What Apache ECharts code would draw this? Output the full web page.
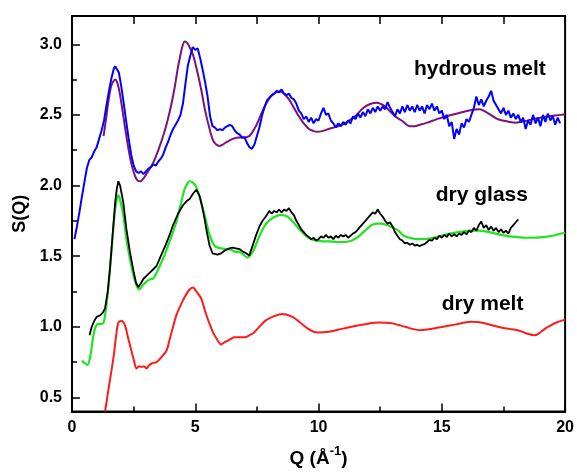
<!DOCTYPE html>
<html>
<head>
<meta charset="utf-8">
<script src="https://cdn.jsdelivr.net/npm/echarts@6/dist/echarts.min.js"></script>
<style>html,body{margin:0;padding:0;background:#fff;}#c{width:577px;height:473px;}</style>
</head>
<body>
<div id="c"></div>
<script>
const xTicks = [0, 5, 10, 15, 20];
const yTickLabels = [0.5, 1.0, 1.5, 2.0, 2.5, 3.0];
const yMinorTicks = [0.75, 1.25, 1.75, 2.25, 2.75];

const hydrousData = [
[0.1,1.62],[0.2,1.71],[0.3,1.81],[0.4,1.92],[0.5,2.02],[0.6,2.12],[0.7,2.18],[0.8,2.20],[0.9,2.24],[1.0,2.27],
[1.1,2.33],[1.2,2.39],[1.3,2.46],[1.4,2.57],[1.5,2.67],[1.6,2.76],[1.7,2.83],[1.75,2.845],[1.8,2.84],[1.9,2.80],
[2.0,2.70],[2.1,2.58],[2.2,2.45],[2.3,2.33],[2.4,2.22],[2.5,2.14],[2.6,2.10],[2.7,2.09],[2.8,2.10],[2.9,2.08],
[3.0,2.10],[3.1,2.12],[3.2,2.13],[3.3,2.15],[3.4,2.14],[3.5,2.17],[3.6,2.19],[3.7,2.22],[3.8,2.27],[3.9,2.31],
[4.0,2.36],[4.1,2.40],[4.2,2.43],[4.3,2.46],[4.4,2.50],[4.5,2.58],[4.6,2.72],[4.7,2.85],[4.8,2.92],[4.9,2.98],
[5.0,2.96],[5.1,2.97],[5.2,2.90],[5.3,2.82],[5.4,2.73],[5.5,2.63],[5.6,2.49],[5.7,2.42],[5.8,2.41],[5.9,2.39],
[6.0,2.40],[6.1,2.39],[6.2,2.41],[6.3,2.42],[6.4,2.43],[6.5,2.42],[6.6,2.39],[6.7,2.37],[6.8,2.36],[6.9,2.34],
[7.0,2.34],[7.1,2.30],[7.2,2.27],[7.3,2.26],[7.4,2.29],[7.5,2.35],[7.6,2.41],[7.7,2.49],[7.8,2.55],[7.9,2.60],
[8.0,2.62],[8.1,2.64],[8.2,2.65],[8.3,2.67],[8.4,2.66],[8.5,2.68],[8.6,2.65],[8.7,2.64],[8.8,2.65],[8.9,2.62],
[9.0,2.61],[9.1,2.58],[9.2,2.53],[9.3,2.51],[9.4,2.47],[9.5,2.49],[9.6,2.45],[9.7,2.48],[9.8,2.44],[9.9,2.47],
[10.0,2.46],[10.1,2.51],[10.2,2.55],[10.3,2.50],[10.4,2.51],[10.5,2.46],[10.6,2.44],[10.7,2.41],[10.8,2.44],[10.9,2.42],
[11.0,2.45],[11.1,2.43],[11.2,2.46],[11.3,2.44],[11.4,2.49],[11.5,2.47],[11.6,2.51],[11.7,2.48],[11.8,2.52],[11.9,2.49],
[12.0,2.54],[12.1,2.51],[12.2,2.55],[12.3,2.52],[12.4,2.56],[12.5,2.53],[12.6,2.56],[12.7,2.54],[12.8,2.59],[12.9,2.55],
[13.0,2.52],[13.1,2.49],[13.2,2.54],[13.3,2.51],[13.4,2.56],[13.5,2.52],[13.6,2.57],[13.7,2.53],[13.8,2.56],[13.9,2.52],
[14.0,2.57],[14.1,2.53],[14.2,2.56],[14.3,2.51],[14.4,2.57],[14.5,2.54],[14.6,2.58],[14.7,2.53],[14.8,2.56],[14.9,2.51],
[15.0,2.53],[15.1,2.47],[15.2,2.50],[15.3,2.42],[15.4,2.45],[15.5,2.33],[15.6,2.40],[15.7,2.36],[15.8,2.44],[15.9,2.41],
[16.0,2.47],[16.1,2.45],[16.2,2.50],[16.3,2.55],[16.4,2.63],[16.5,2.57],[16.6,2.61],[16.7,2.56],[16.8,2.60],[16.9,2.63],
[17.0,2.67],[17.1,2.60],[17.2,2.57],[17.3,2.54],[17.4,2.51],[17.5,2.55],[17.6,2.50],[17.7,2.53],[17.8,2.48],[17.9,2.51],
[18.0,2.47],[18.1,2.50],[18.2,2.45],[18.3,2.48],[18.4,2.40],[18.5,2.46],[18.6,2.43],[18.7,2.50],[18.8,2.44],[18.9,2.48],
[19.0,2.42],[19.1,2.50],[19.2,2.45],[19.3,2.51],[19.4,2.46],[19.5,2.49],[19.6,2.43],[19.7,2.48],[19.8,2.44]
];

const hydrousFit = [
[1.28,2.35],[1.38,2.47],[1.48,2.60],[1.6,2.71],[1.75,2.75],[1.85,2.72],[1.95,2.64],[2.1,2.47],[2.25,2.30],[2.4,2.16],
[2.55,2.07],[2.66,2.035],[2.76,2.03],[2.9,2.05],[3.05,2.09],[3.29,2.16],[3.5,2.25],[3.75,2.38],[3.96,2.52],[4.15,2.68],
[4.3,2.84],[4.37,2.90],[4.47,2.98],[4.57,3.02],[4.67,3.01],[4.77,2.98],[4.9,2.93],[5.05,2.83],[5.24,2.68],[5.4,2.53],
[5.58,2.40],[5.72,2.32],[5.85,2.29],[5.98,2.28],[6.11,2.29],[6.3,2.31],[6.52,2.33],[6.79,2.34],[6.92,2.34],[7.19,2.35],
[7.32,2.38],[7.46,2.42],[7.66,2.50],[7.86,2.575],[8.06,2.63],[8.27,2.66],[8.4,2.665],[8.53,2.66],[8.8,2.61],[9.0,2.55],
[9.2,2.49],[9.4,2.44],[9.61,2.40],[9.8,2.385],[9.94,2.38],[10.15,2.385],[10.41,2.40],[10.7,2.415],[10.95,2.43],[11.2,2.455],
[11.49,2.49],[11.7,2.53],[11.9,2.56],[12.15,2.58],[12.36,2.585],[12.55,2.575],[12.7,2.56],[12.9,2.525],[13.1,2.49],[13.37,2.46],
[13.71,2.42],[13.9,2.42],[14.11,2.43],[14.4,2.445],[14.65,2.46],[14.9,2.475],[15.19,2.49],[15.5,2.505],[15.86,2.52],[16.2,2.535],
[16.53,2.54],[16.8,2.52],[17.07,2.49],[17.27,2.47],[17.47,2.46],[17.75,2.45],[18.01,2.445],[18.35,2.455],[18.68,2.47],[19.0,2.48],
[19.35,2.49],[19.6,2.495],[19.82,2.50],[20,2.505]
];

const glassData = [
[0.71,0.94],[0.8,1.00],[0.9,1.04],[1.0,1.07],[1.14,1.08],[1.25,1.10],[1.34,1.13],[1.45,1.25],[1.54,1.41],[1.65,1.66],
[1.75,1.88],[1.82,1.98],[1.88,2.03],[1.95,2.00],[2.08,1.88],[2.2,1.70],[2.35,1.53],[2.5,1.39],[2.6,1.31],[2.69,1.28],
[2.8,1.31],[2.9,1.34],[3.02,1.36],[3.2,1.39],[3.43,1.43],[3.6,1.50],[3.8,1.58],[3.96,1.65],[4.1,1.72],[4.3,1.80],
[4.5,1.86],[4.65,1.89],[4.77,1.905],[4.9,1.94],[5.04,1.97],[5.1,1.96],[5.17,1.93],[5.28,1.85],[5.38,1.76],[5.48,1.66],
[5.58,1.575],[5.7,1.52],[5.78,1.51],[5.9,1.51],[6.05,1.52],[6.2,1.54],[6.38,1.555],[6.5,1.56],[6.65,1.555],[6.79,1.55],
[6.95,1.53],[7.06,1.52],[7.19,1.505],[7.3,1.56],[7.46,1.645],[7.6,1.71],[7.73,1.75],
[7.9,1.79],[8.0,1.82],[8.1,1.80],[8.2,1.82],[8.3,1.81],[8.4,1.83],[8.5,1.81],[8.6,1.83],[8.7,1.82],[8.8,1.84],
[8.9,1.81],[9.0,1.79],[9.1,1.75],[9.2,1.72],[9.3,1.69],[9.4,1.67],[9.5,1.65],[9.6,1.635],[9.7,1.62],[9.8,1.63],
[9.9,1.61],[10.0,1.62],[10.1,1.64],[10.2,1.63],[10.3,1.65],[10.4,1.63],[10.5,1.64],[10.6,1.62],[10.7,1.645],[10.8,1.63],
[10.9,1.65],[11.0,1.64],[11.1,1.65],[11.2,1.63],[11.3,1.645],[11.4,1.66],[11.5,1.67],[11.6,1.69],[11.7,1.71],[11.8,1.73],
[11.9,1.75],[12.0,1.77],[12.1,1.79],[12.2,1.81],[12.3,1.80],[12.4,1.83],[12.5,1.80],[12.6,1.78],[12.7,1.75],[12.8,1.73],
[12.9,1.74],[13.0,1.71],[13.1,1.67],[13.2,1.645],[13.3,1.62],[13.4,1.61],[13.5,1.59],[13.6,1.595],[13.7,1.58],[13.8,1.59],
[13.9,1.575],[14.0,1.58],[14.1,1.57],[14.2,1.58],[14.3,1.585],[14.4,1.60],[14.5,1.615],[14.6,1.61],[14.7,1.63],[14.8,1.62],
[14.9,1.645],[15.0,1.63],[15.1,1.65],[15.2,1.635],[15.3,1.66],[15.4,1.64],[15.5,1.655],[15.6,1.64],[15.7,1.66],[15.8,1.65],
[15.9,1.67],[16.0,1.655],[16.1,1.68],[16.2,1.67],[16.3,1.70],[16.4,1.68],[16.5,1.72],[16.6,1.745],[16.7,1.70],[16.8,1.72],
[16.9,1.685],[17.0,1.71],[17.1,1.68],[17.2,1.70],[17.3,1.67],[17.4,1.69],[17.5,1.665],[17.6,1.68],[17.7,1.66],[17.8,1.70],
[17.9,1.72],[18.0,1.74],[18.1,1.76]
];

const glassFit = [
[0.40,0.76],[0.5,0.745],[0.63,0.73],[0.75,0.80],[0.85,0.92],[0.94,0.99],[1.05,1.02],[1.14,1.02],[1.27,1.025],[1.34,1.08],
[1.44,1.22],[1.54,1.41],[1.65,1.64],[1.75,1.83],[1.82,1.91],[1.88,1.93],[1.95,1.90],[2.08,1.79],[2.2,1.63],[2.35,1.48],
[2.5,1.36],[2.62,1.29],[2.73,1.265],[2.85,1.29],[3.02,1.32],[3.15,1.335],[3.29,1.34],[3.45,1.39],[3.69,1.48],[3.95,1.60],
[4.23,1.74],[4.4,1.86],[4.57,1.975],[4.7,2.02],[4.77,2.03],[4.9,2.02],[5.04,1.99],[5.17,1.92],[5.31,1.835],[5.45,1.74],
[5.58,1.65],[5.72,1.59],[5.85,1.565],[6.05,1.555],[6.25,1.55],[6.45,1.545],[6.65,1.53],[6.79,1.53],[6.95,1.51],[7.12,1.49],
[7.25,1.51],[7.39,1.55],[7.55,1.62],[7.73,1.69],[7.9,1.735],[8.06,1.76],[8.25,1.78],[8.4,1.79],[8.55,1.79],[8.73,1.78],
[8.9,1.755],[9.07,1.72],[9.28,1.68],[9.48,1.645],[9.7,1.62],[9.94,1.61],[10.2,1.605],[10.41,1.605],[10.75,1.60],[11.09,1.60],
[11.35,1.61],[11.55,1.63],[11.76,1.66],[11.95,1.69],[12.16,1.72],[12.36,1.73],[12.56,1.73],[12.77,1.72],[12.97,1.705],[13.24,1.68],
[13.44,1.645],[13.7,1.63],[13.98,1.62],[14.3,1.62],[14.65,1.63],[15.0,1.645],[15.32,1.66],[15.7,1.67],[16.13,1.68],[16.53,1.68],
[17.07,1.665],[17.4,1.65],[17.74,1.64],[18.05,1.635],[18.41,1.63],[18.75,1.63],[19.08,1.635],[19.35,1.64],[19.62,1.65],[19.96,1.665],
[20,1.667]
];

const meltData = [
[1.34,0.40],[1.5,0.58],[1.68,0.78],[1.8,0.95],[1.88,1.03],[2.01,1.04],[2.15,1.01],[2.25,0.94],[2.35,0.87],[2.5,0.77],
[2.62,0.705],[2.72,0.72],[2.82,0.715],[2.92,0.72],[3.02,0.705],[3.12,0.725],[3.23,0.74],[3.43,0.75],[3.6,0.78],[3.83,0.83],
[3.96,0.91],[4.1,1.00],[4.23,1.08],[4.4,1.15],[4.57,1.21],[4.75,1.26],[4.9,1.277],[5.05,1.25],[5.24,1.20],[5.4,1.11],
[5.58,1.02],[5.72,0.96],[5.85,0.92],[6.05,0.875],[6.18,0.89],[6.31,0.90],[6.45,0.915],[6.59,0.925],[6.8,0.925],[6.99,0.925],
[7.2,0.94],[7.39,0.96],[7.6,1.00],[7.86,1.045],[8.2,1.075],[8.53,1.09],[8.94,1.07],[9.25,1.03],[9.54,0.99],[9.8,0.965],
[10.01,0.96],[10.41,0.965],[10.82,0.98],[11.2,0.995],[11.63,1.01],[12.0,1.022],[12.43,1.03],[12.97,1.025],[13.25,1.012],[13.51,1.00],
[13.8,0.985],[14.11,0.975],[14.4,0.98],[14.72,0.99],[15.0,0.998],[15.39,1.01],[15.8,1.025],[16.19,1.035],[16.45,1.033],[16.73,1.025],
[17.05,1.01],[17.4,0.995],[17.75,0.985],[18.08,0.975],[18.3,0.962],[18.48,0.95],[18.75,0.94],[18.9,0.948],[19.02,0.965],[19.22,0.99],
[19.42,1.01],[19.65,1.03],[19.89,1.045],[20,1.05]
];

const labels = [
  { text: 'hydrous melt', x: 414, y: 70 },
  { text: 'dry glass', x: 435.7, y: 196 },
  { text: 'dry melt', x: 441.7, y: 304.5 }
];

const FONT = '"Liberation Sans", Arial, sans-serif';
const chart = echarts.init(document.getElementById('c'), null, { renderer: 'canvas' });

function lineSeries(data, color, width, smooth) {
  return {
    type: 'line', data: data, showSymbol: false, symbol: 'none', smooth: smooth,
    lineStyle: { color: color, width: width }, xAxisIndex: 0, yAxisIndex: 0,
    animation: false, silent: true
  };
}

chart.setOption({
  animation: false,
  backgroundColor: '#fff',
  grid: { left: 72, right: 9, top: 16, bottom: 59, show: true, borderColor: '#000', borderWidth: 2, backgroundColor: 'transparent' },
  xAxis: [
    {
      type: 'value', min: xTicks[0], max: xTicks[xTicks.length - 1], interval: 5, position: 'bottom',
      axisLine: { show: true, lineStyle: { color: '#000', width: 2 } },
      axisTick: { show: true, inside: true, length: 8, lineStyle: { color: '#000', width: 1.5 } },
      minorTick: { show: true, splitNumber: 2, length: 5, lineStyle: { color: '#000', width: 1.5 } },
      axisLabel: { color: '#000', fontSize: 16, fontWeight: 'bold', fontFamily: FONT, margin: 8 },
      splitLine: { show: false },
      name: '{a|Q (Å}{s|-1}{a|)}', nameLocation: 'middle', nameGap: 33,
      nameTextStyle: {
        rich: {
          a: { fontSize: 19, fontWeight: 'bold', fontFamily: FONT, color: '#000', lineHeight: 28 },
          s: { fontSize: 13, fontWeight: 'bold', fontFamily: FONT, color: '#000', lineHeight: 12, verticalAlign: 'top' }
        }
      }
    },
    {
      type: 'value', min: 0, max: 20, interval: 2.5, position: 'top', show: true,
      axisLine: { show: true, lineStyle: { color: '#000', width: 2 } },
      axisTick: { show: true, inside: true, length: 8, lineStyle: { color: '#000', width: 1.5 } },
      axisLabel: { show: false }, splitLine: { show: false }
    }
  ],
  yAxis: [
    {
      type: 'value', min: 0.4, max: 3.2, position: 'left',
      axisLine: { show: true, lineStyle: { color: '#000', width: 2 } },
      axisTick: { show: true, inside: true, length: 8, customValues: yTickLabels, lineStyle: { color: '#000', width: 1.5 } },
      axisLabel: { color: '#000', fontSize: 16, fontWeight: 'bold', fontFamily: FONT, margin: 10,
                   customValues: yTickLabels, formatter: v => Number(v).toFixed(1) },
      splitLine: { show: false },
      name: 'S(Q)', nameLocation: 'middle', nameGap: 34,
      nameTextStyle: { fontSize: 18, fontWeight: 'bold', fontFamily: FONT, color: '#000' }
    },
    {
      type: 'value', min: 0.4, max: 3.2, position: 'left',
      axisLine: { show: false },
      axisTick: { show: true, inside: true, length: 5, customValues: yMinorTicks, lineStyle: { color: '#000', width: 1.5 } },
      axisLabel: { show: false }, splitLine: { show: false }
    }
  ],
  series: [
    lineSeries(meltData, '#ff1a1a', 2, 0.3),
    lineSeries(glassFit, '#1fe51f', 2.2, 0.3),
    lineSeries(glassData, '#000000', 1.8, false),
    lineSeries(hydrousFit, '#7a127a', 2, 0.3),
    lineSeries(hydrousData, '#0000ff', 2, false)
  ],
  graphic: labels.map(l => ({
    type: 'text', left: l.x, top: l.y - 11, silent: true,
    style: { text: l.text, fill: '#000', font: 'bold 21px ' + FONT }
  }))
});
</script>
</body>
</html>
